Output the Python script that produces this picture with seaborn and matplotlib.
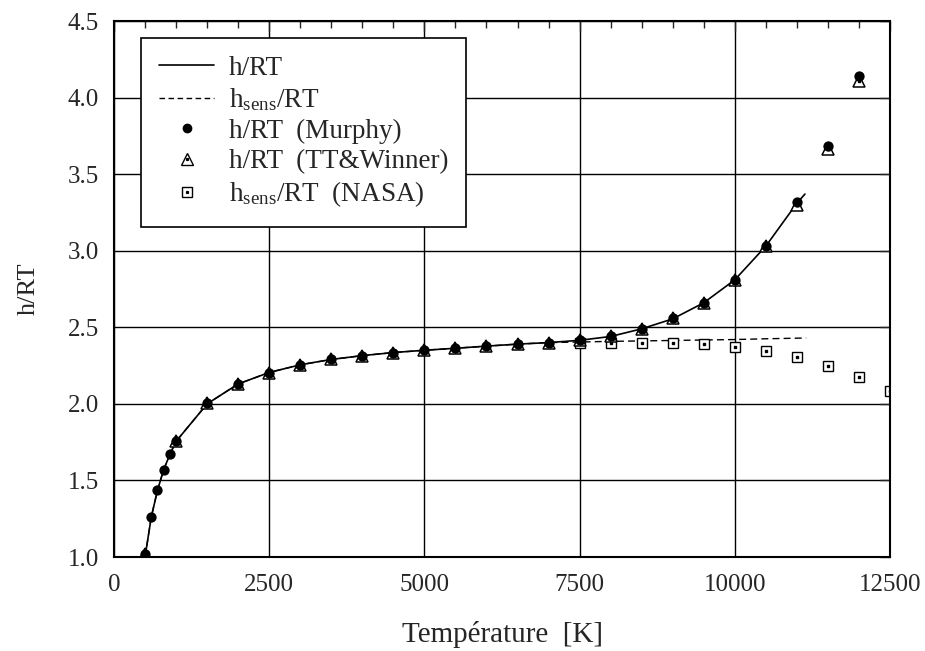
import matplotlib
matplotlib.use("Agg")
from matplotlib import pyplot as plt
from matplotlib.lines import Line2D
from matplotlib.legend_handler import HandlerTuple
from matplotlib.ticker import MultipleLocator, FormatStrFormatter
import numpy as np
import pandas as pd
import seaborn as sns

# solid curve h/RT
T_line = [500, 600, 700, 800, 900, 1000, 1500, 2000, 2500, 3000, 3500, 4000, 4500, 5000,
          5500, 6000, 6500, 7000, 7500, 8000, 8500, 9000, 9500, 10000, 10500, 11000, 11130]
h_line = [1.0, 1.26, 1.435, 1.57, 1.67, 1.755, 2.0, 2.13, 2.205, 2.255, 2.29, 2.315, 2.335, 2.35,
          2.363, 2.377, 2.39, 2.40, 2.415, 2.44, 2.49, 2.555, 2.66, 2.81, 3.03, 3.31, 3.37]

# dashed curve h_sens/RT
T_sens = [500, 600, 700, 800, 900, 1000, 1500, 2000, 2500, 3000, 3500, 4000, 4500, 5000,
          5500, 6000, 6500, 7000, 7500, 8000, 8500, 9000, 9500, 10000, 10500, 11150]
h_sens = [1.0, 1.26, 1.435, 1.57, 1.67, 1.755, 2.0, 2.13, 2.205, 2.255, 2.29, 2.315, 2.335, 2.35,
          2.363, 2.377, 2.39, 2.40, 2.404, 2.408, 2.411, 2.414, 2.417, 2.42, 2.425, 2.43]

# Murphy points
T_murphy = [500, 600, 700, 800, 900, 1000, 1500, 2000, 2500, 3000, 3500, 4000, 4500, 5000, 5500,
            6000, 6500, 7000, 7500, 8000, 8500, 9000, 9500, 10000, 10500, 11000, 11500, 12000]
h_murphy = [1.02, 1.26, 1.435, 1.568, 1.67, 1.757, 2.003, 2.127, 2.203, 2.255, 2.29, 2.315, 2.335,
            2.35, 2.363, 2.377, 2.39, 2.40, 2.418, 2.445, 2.49, 2.558, 2.66, 2.81, 3.03, 3.315, 3.685, 4.14]

# TT&Winner points
T_tt = [500, 1000, 1500, 2000, 2500, 3000, 3500, 4000, 4500, 5000, 5500, 6000, 6500, 7000, 7500,
        8000, 8500, 9000, 9500, 10000, 10500, 11000, 11500, 12000]
h_tt = [1.02, 1.757, 2.003, 2.127, 2.203, 2.255, 2.29, 2.315, 2.335, 2.35, 2.363, 2.377, 2.39,
        2.40, 2.418, 2.445, 2.49, 2.558, 2.66, 2.81, 3.03, 3.30, 3.665, 4.105]

# NASA points
T_nasa = [7500, 8000, 8500, 9000, 9500, 10000, 10500, 11000, 11500, 12000, 12500]
h_nasa = [2.398, 2.40, 2.40, 2.396, 2.389, 2.372, 2.346, 2.306, 2.25, 2.176, 2.087]

sns.set_style("white")
plt.rcParams['font.family'] = ['Liberation Serif', 'DejaVu Serif']
plt.rcParams['mathtext.fontset'] = 'custom'
plt.rcParams['mathtext.rm'] = 'Liberation Serif'
plt.rcParams['mathtext.it'] = 'Liberation Serif:italic'

fig = plt.figure(figsize=(9.25, 6.51), dpi=100)
ax = fig.add_axes([114 / 925, 1 - 557 / 651, 776 / 925, 536 / 651])

sns.lineplot(x=T_line, y=h_line, ax=ax, color='black', lw=1.2, sort=False, zorder=3)
sns.lineplot(x=T_sens, y=h_sens, ax=ax, color='black', lw=1.0, sort=False, zorder=2,
             linestyle=(0, (5, 3)))

ax.plot(T_nasa, h_nasa, 's', mfc='white', mec='black', ms=7.5, mew=1.0, zorder=4)
ax.plot(T_nasa, h_nasa, 's', color='black', ms=1.5, zorder=4)
ax.plot(T_tt, h_tt, '^', mfc='white', mec='black', ms=9, mew=1.1, zorder=5)
ax.plot(T_tt, h_tt, 's', color='black', ms=1.5, zorder=5)
sns.scatterplot(x=T_murphy, y=h_murphy, ax=ax, color='black', s=55, edgecolor='black',
                linewidth=0, zorder=6)

ax.set_xlim(0, 12500)
ax.set_ylim(1.0, 4.5)
ax.xaxis.set_major_locator(MultipleLocator(2500))
ax.xaxis.set_minor_locator(MultipleLocator(500))
ax.yaxis.set_major_locator(MultipleLocator(0.5))
ax.yaxis.set_major_formatter(FormatStrFormatter('%.1f'))
ax.grid(True, which='major', color='black', lw=1.0)
ax.tick_params(which='both', direction='in', top=True, right=True, labelsize=18, width=1.0)
ax.tick_params(which='major', length=7)
ax.tick_params(which='minor', length=5)
ax.tick_params(axis='x', pad=12)
ax.tick_params(axis='y', pad=11)
for s in ax.spines.values():
    s.set_linewidth(1.5)
    s.set_color('black')
    s.set_zorder(10)

ax.set_xlabel('Température  [K]', fontsize=21, labelpad=18)
ax.set_ylabel('h/RT', fontsize=19, labelpad=20)

h1 = Line2D([], [], color='black', lw=1.2)
h2 = Line2D([], [], color='black', lw=1.0, linestyle=(0, (4, 2.5)))
h3 = Line2D([], [], marker='o', color='black', ls='none', ms=6)
h4a = Line2D([], [], marker='^', mfc='white', mec='black', ls='none', ms=8)
h4b = Line2D([], [], marker='s', color='black', ls='none', ms=1.3)
h5a = Line2D([], [], marker='s', mfc='white', mec='black', ls='none', ms=7)
h5b = Line2D([], [], marker='s', color='black', ls='none', ms=1.3)
labels = ['h/RT', r'h$_{\mathrm{sens}}$/RT', 'h/RT  (Murphy)', 'h/RT  (TT&Winner)',
          r'h$_{\mathrm{sens}}$/RT  (NASA)']
leg = ax.legend([h1, h2, h3, (h4a, h4b), (h5a, h5b)], labels,
                handler_map={tuple: HandlerTuple(ndivide=1, pad=0)},
                loc='upper left', bbox_to_anchor=(0.035, 0.968), borderaxespad=0,
                fontsize=19.5, handlelength=2.05, handletextpad=0.55, labelspacing=0.2,
                borderpad=0.65, fancybox=False, framealpha=1, edgecolor='black')
leg.get_frame().set_linewidth(1.2)
leg.set_zorder(20)

fig.savefig('out.png', dpi=100)
